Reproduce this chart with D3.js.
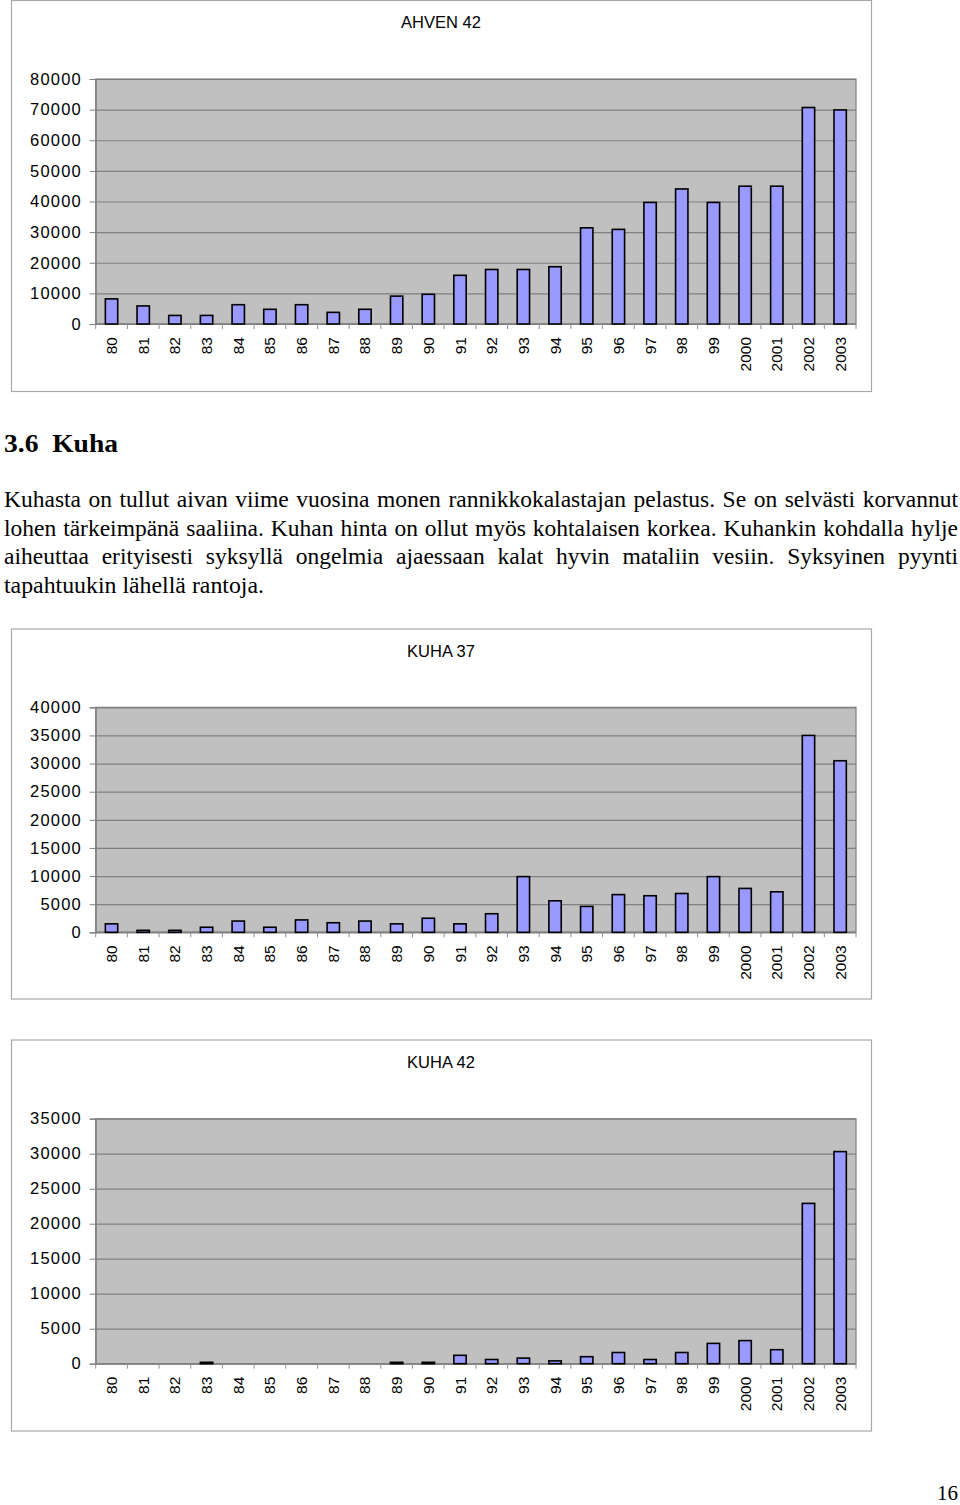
<!DOCTYPE html>
<html><head><meta charset="utf-8">
<script src="https://cdn.jsdelivr.net/npm/d3@7"></script>
<style>body{margin:0;background:#fff}</style>
</head><body><svg id="c" width="960" height="1505" xmlns="http://www.w3.org/2000/svg"></svg>
<script>
// ---------- data ----------
const categories = ["80","81","82","83","84","85","86","87","88","89","90","91","92","93","94","95","96","97","98","99","2000","2001","2002","2003"];
const ahven42 = [8200,5900,2800,2800,6300,4800,6300,3800,4800,9100,9700,15900,17800,17800,18700,31400,30900,39700,44100,39700,45000,45000,70700,69900];
const kuha37  = [1500,350,350,900,2000,900,2200,1700,2000,1500,2500,1500,3300,9900,5600,4600,6700,6500,6900,9900,7800,7200,35000,30500];
const kuha42  = [0,0,0,200,0,0,0,0,0,200,200,1200,600,800,400,1000,1600,600,1600,2900,3300,2000,22900,30300];
const ahvenTicks = [0,10000,20000,30000,40000,50000,60000,70000,80000];
const kuha37Ticks = [0,5000,10000,15000,20000,25000,30000,35000,40000];
const kuha42Ticks = [0,5000,10000,15000,20000,25000,30000,35000];
const chartTitles = ["AHVEN 42","KUHA 37","KUHA 42"];
const heading = "3.6\u00a0\u00a0Kuha";
const bodyLines = [
  "Kuhasta on tullut aivan viime vuosina monen rannikkokalastajan pelastus. Se on selvästi korvannut",
  "lohen tärkeimpänä saaliina. Kuhan hinta on ollut myös kohtalaisen korkea. Kuhankin kohdalla hylje",
  "aiheuttaa erityisesti syksyllä ongelmia ajaessaan kalat hyvin mataliin vesiin. Syksyinen pyynti",
  "tapahtuukin lähellä rantoja."
];
const pageNumber = "16";

// ---------- layout ----------
const svg = d3.select("#c");
const layouts = [
  {frame:[11,0.5,860,391], plot:[95.7,856,79,324], titleY:28},
  {frame:[11,629,860,370], plot:[95.7,856,707.3,932.3], titleY:656.5},
  {frame:[11,1040,860,391], plot:[95.7,856,1118.7,1363.7], titleY:1068}
];
const series = [ahven42, kuha37, kuha42];
const tickSets = [ahvenTicks, kuha37Ticks, kuha42Ticks];

function drawChart(L, values, ticks, title){
  const g = svg.append("g");
  const [fx,fy,fw,fh] = L.frame;
  const [x0,x1,y0,y1] = L.plot;
  g.append("rect").attr("x",fx+0.5).attr("y",fy).attr("width",fw).attr("height",fh)
    .attr("fill","#fff").attr("stroke","#a8a8a8").attr("stroke-width",1.2);
  g.append("text").attr("x",441).attr("y",L.titleY).attr("text-anchor","middle")
    .attr("font-family","'Liberation Sans', Arial, sans-serif").attr("font-size",16.5)
    .attr("fill","#000").text(title);

  const p = 0.61;
  const x = d3.scaleBand().domain(categories).range([x0,x1]).paddingInner(p).paddingOuter(p/2);
  const y = d3.scaleLinear().domain([0, d3.max(ticks)]).range([y1,y0]);

  g.append("rect").attr("x",x0).attr("y",y0).attr("width",x1-x0).attr("height",y1-y0)
    .attr("fill","#c0c0c0").attr("stroke","#808080").attr("stroke-width",1.2);

  const grid = g.append("g").attr("transform",`translate(${x0},0)`)
    .call(d3.axisLeft(y).tickValues(ticks).tickSize(-(x1-x0)).tickFormat(""));
  grid.select(".domain").remove();
  grid.selectAll("line").attr("stroke","#808080").attr("stroke-width",1.2);

  const ya = g.append("g").attr("transform",`translate(${x0},0)`)
    .call(d3.axisLeft(y).tickValues(ticks).tickSize(6).tickPadding(9).tickFormat(d3.format("d")));
  ya.select(".domain").attr("stroke","#808080").attr("stroke-width",1.2);
  ya.selectAll("line").attr("stroke","#808080");
  ya.selectAll("text").attr("font-family","'Liberation Sans', Arial, sans-serif")
    .attr("font-size",16.5).attr("letter-spacing","1.2px").attr("fill","#000")
    .attr("dx","1.2px");

  g.append("line").attr("x1",x0).attr("x2",x1).attr("y1",y1).attr("y2",y1)
    .attr("stroke","#808080").attr("stroke-width",1.4);
  const off = (x.step()-x.bandwidth())/2;
  const bounds = categories.map(c => x(c)-off).concat([x1]);
  g.append("g").selectAll("line").data(bounds).join("line")
    .attr("x1",d=>d).attr("x2",d=>d).attr("y1",y1).attr("y2",y1+5)
    .attr("stroke","#909090").attr("stroke-width",1);

  const xa = g.append("g").attr("transform",`translate(0,${y1})`)
    .call(d3.axisBottom(x).tickSize(0).tickPadding(0));
  xa.select(".domain").remove();
  xa.selectAll("text")
    .attr("font-family","'Liberation Sans', Arial, sans-serif").attr("font-size",15.5)
    .attr("fill","#000")
    .attr("text-anchor","end").attr("dy",null).attr("y",0).attr("x",0)
    .attr("transform","translate(0,13) rotate(-90)")
    .attr("dominant-baseline","central");

  g.append("g").selectAll("rect").data(categories.map((c,i)=>({c,v:values[i]})).filter(d=>d.v>0))
    .join("rect")
    .attr("x",d=>x(d.c)).attr("width",x.bandwidth())
    .attr("y",d=>y(d.v)).attr("height",d=>y(0)-y(d.v))
    .attr("fill","#9999ff").attr("stroke","#000").attr("stroke-width",1.6);
}

layouts.forEach((L,i)=>drawChart(L, series[i], tickSets[i], chartTitles[i]));

// ---------- text ----------
svg.append("text").attr("x",4).attr("y",452)
  .attr("font-family","'Liberation Serif','Times New Roman',serif").attr("font-weight","bold")
  .attr("font-size",25).attr("textLength",114).attr("lengthAdjust","spacingAndGlyphs")
  .attr("fill","#000").text(heading);

const fs = 23.5;
const lineY = [507, 535.5, 564, 592.5];
const left = 4, right = 958;
bodyLines.forEach((line,i)=>{
  const t = svg.append("text").attr("y",lineY[i])
    .attr("font-family","'Liberation Serif','Times New Roman',serif").attr("font-size",fs).attr("fill","#000");
  const words = line.split(" ");
  const spans = words.map(w => t.append("tspan").text(w));
  const widths = spans.map(s => s.node().getComputedTextLength());
  const sum = d3.sum(widths);
  const space = fs*0.25;
  const justify = i < bodyLines.length-1;
  let gap = justify ? (right-left-sum)/(words.length-1) : space;
  let scale = 1;
  if (justify && gap < space*0.9) { gap = space*0.9; scale = (right-left-gap*(words.length-1))/sum; }
  let cx = left;
  spans.forEach((s,k)=>{
    s.attr("x",cx);
    if (scale!==1) s.attr("textLength",widths[k]*scale).attr("lengthAdjust","spacingAndGlyphs");
    cx += widths[k]*scale + gap;
  });
  if (!justify) {
    const target = 264 - left;
    const total = cx - gap - left;
    const sc = target/total;
    let px = left;
    spans.forEach((s,k)=>{ s.attr("x",px).attr("textLength",widths[k]*sc).attr("lengthAdjust","spacingAndGlyphs"); px += (widths[k]+gap)*sc; });
  }
});

svg.append("text").attr("x",958).attr("y",1500).attr("text-anchor","end")
  .attr("font-family","'Liberation Serif','Times New Roman',serif").attr("font-size",21)
  .attr("fill","#000").text(pageNumber);
</script></body></html>
